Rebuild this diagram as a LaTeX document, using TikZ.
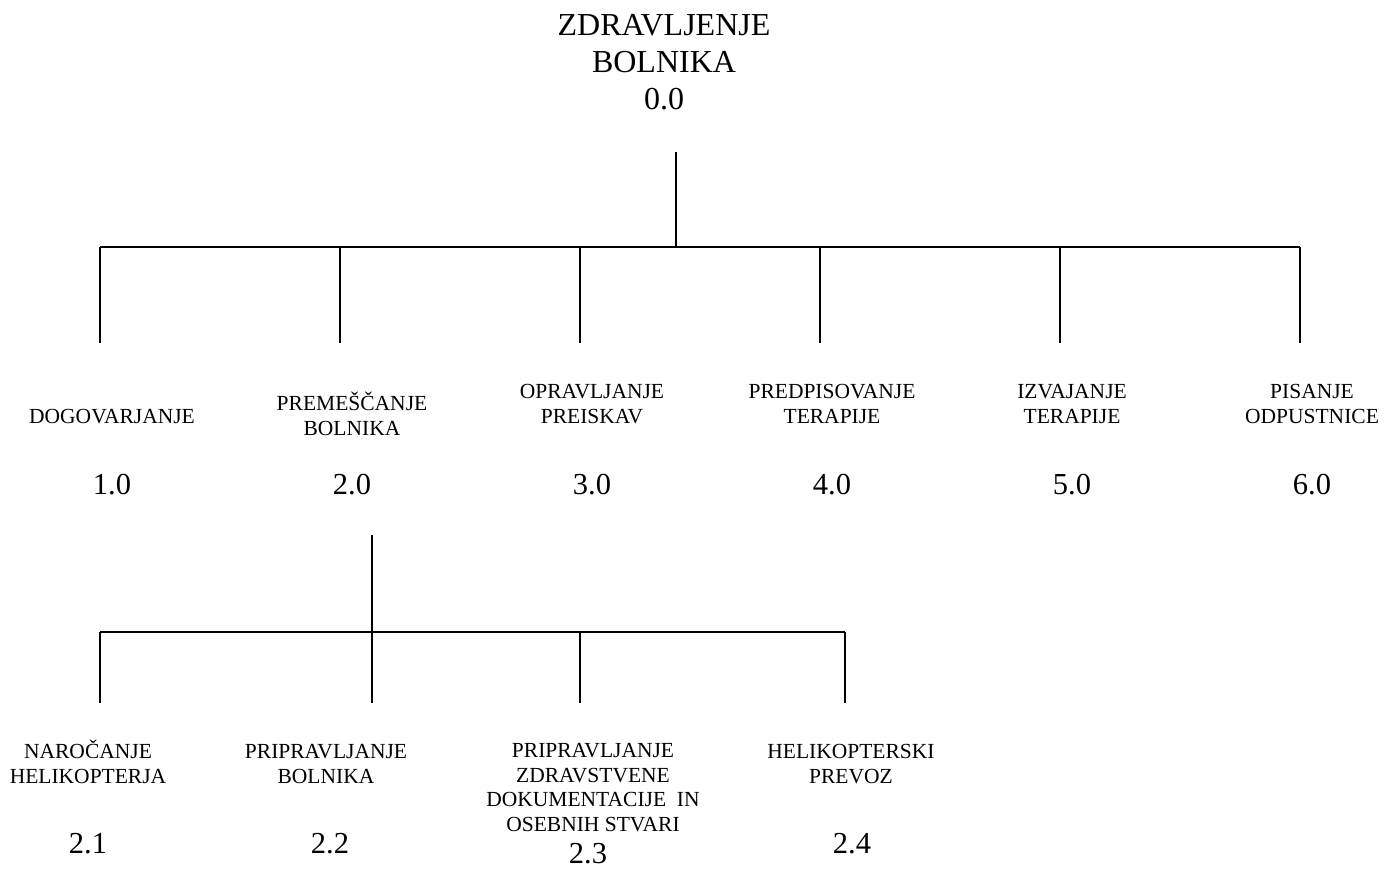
\documentclass[tikz,border=0pt]{standalone}
\usepackage{fontspec}
\setmainfont{Liberation Serif}

\tikzset{
  task_style/.style={align=center, anchor=base, inner sep=0pt, font=\fontsize{21.5}{24.5}\selectfont},
  num_style/.style={anchor=base, inner sep=0pt, font=\fontsize{30.5}{36}\selectfont},
  root_style/.style={align=center, anchor=base, inner sep=0pt, font=\fontsize{32}{37}\selectfont},
  wbs_line/.style={line width=1.7pt}
}

\begin{document}
\begin{tikzpicture}[x=1pt, y=-1pt]
    \useasboundingbox (0,0) rectangle (1384,869);

    % anchor=base is the baseline of the last line
    \node[root_style] (root) at (664,110) {ZDRAVLJENJE\\BOLNIKA\\0.0};

    \node[task_style] (t1) at (112,423) {DOGOVARJANJE};
    \node[task_style] (t2) at (352,435) {PREMEŠČANJE\\BOLNIKA};
    \node[task_style] (t3) at (592,423) {OPRAVLJANJE\\PREISKAV};
    \node[task_style] (t4) at (832,423) {PREDPISOVANJE\\TERAPIJE};
    \node[task_style] (t5) at (1072,423) {IZVAJANJE\\TERAPIJE};
    \node[task_style] (t6) at (1312,423) {PISANJE\\ODPUSTNICE};

    \node[num_style] (n1) at (112,494) {1.0};
    \node[num_style] (n2) at (352,494) {2.0};
    \node[num_style] (n3) at (592,494) {3.0};
    \node[num_style] (n4) at (832,494) {4.0};
    \node[num_style] (n5) at (1072,494) {5.0};
    \node[num_style] (n6) at (1312,494) {6.0};

    \node[task_style] (t21) at (88,783) {NAROČANJE\\HELIKOPTERJA};
    \node[task_style] (t22) at (326,783) {PRIPRAVLJANJE\\BOLNIKA};
    \node[task_style] (t23) at (593,831) {PRIPRAVLJANJE\\ZDRAVSTVENE\\DOKUMENTACIJE\ \ IN\\OSEBNIH STVARI};
    \node[task_style] (t24) at (851,783) {HELIKOPTERSKI\\PREVOZ};

    \node[num_style] (n21) at (88,853) {2.1};
    \node[num_style] (n22) at (330,853) {2.2};
    \node[num_style] (n23) at (588,863) {2.3};
    \node[num_style] (n24) at (852,853) {2.4};

    % level 0 -> level 1
    \coordinate (s0) at (676,152);
    \coordinate (j0) at (676,247);
    \coordinate (a1) at (100,247);   \coordinate (b1) at (100,343);
    \coordinate (a2) at (340,247);   \coordinate (b2) at (340,343);
    \coordinate (a3) at (580,247);   \coordinate (b3) at (580,343);
    \coordinate (a4) at (820,247);   \coordinate (b4) at (820,343);
    \coordinate (a5) at (1060,247);  \coordinate (b5) at (1060,343);
    \coordinate (a6) at (1300,247);  \coordinate (b6) at (1300,343);

    \draw[wbs_line] (s0) -- (j0);
    \draw[wbs_line] (a1) -- (a6);
    \draw[wbs_line] (a1) -- (b1);
    \draw[wbs_line] (a2) -- (b2);
    \draw[wbs_line] (a3) -- (b3);
    \draw[wbs_line] (a4) -- (b4);
    \draw[wbs_line] (a5) -- (b5);
    \draw[wbs_line] (a6) -- (b6);

    % level 1 -> level 2
    \coordinate (s2) at (372,535);
    \coordinate (j2) at (372,632);
    \coordinate (c1) at (100,632);  \coordinate (d1) at (100,703);
    \coordinate (c2) at (372,632);  \coordinate (d2) at (372,703);
    \coordinate (c3) at (580,632);  \coordinate (d3) at (580,703);
    \coordinate (c4) at (845,632);  \coordinate (d4) at (845,703);

    \draw[wbs_line] (s2) -- (j2);
    \draw[wbs_line] (c1) -- (c4);
    \draw[wbs_line] (c1) -- (d1);
    \draw[wbs_line] (c2) -- (d2);
    \draw[wbs_line] (c3) -- (d3);
    \draw[wbs_line] (c4) -- (d4);

\end{tikzpicture}
\end{document}
